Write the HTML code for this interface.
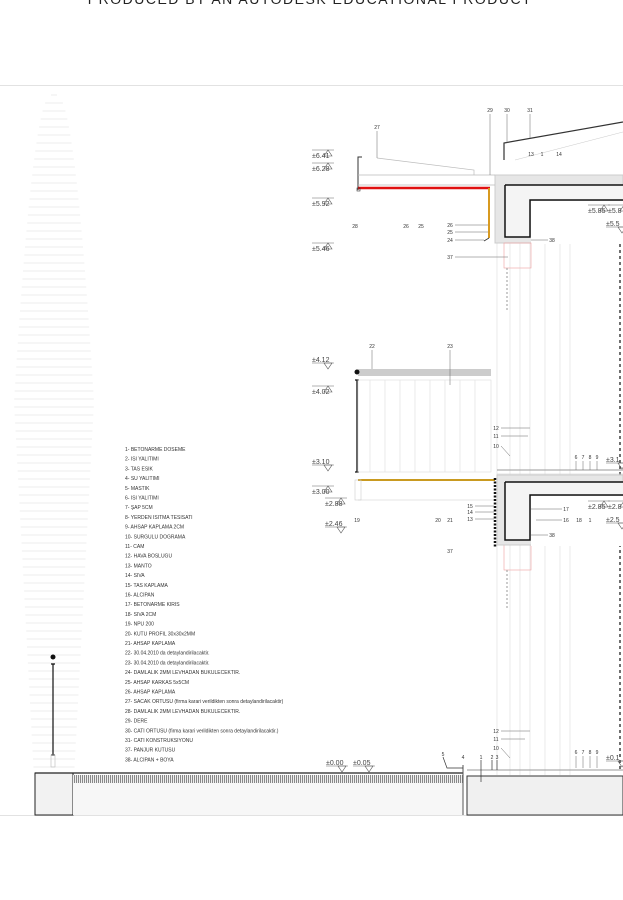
<!DOCTYPE html>
<html><head><meta charset="utf-8"><style>
html,body{margin:0;padding:0;background:#fff;}
svg{display:block;font-family:"Liberation Sans",sans-serif;}
</style></head><body>
<svg width="623" height="900" viewBox="0 0 623 900" xmlns="http://www.w3.org/2000/svg">
<defs>
<pattern id="vh" width="2" height="8" patternUnits="userSpaceOnUse"><rect width="2" height="8" fill="#eee"/><rect width="1" height="8" fill="#888"/></pattern>
</defs>
<rect width="623" height="900" fill="#fff"/>
<text x="310" y="4" font-size="14" text-anchor="middle" fill="#222" letter-spacing="1.5">PRODUCED BY AN AUTODESK EDUCATIONAL PRODUCT</text>
<line x1="0" y1="85.5" x2="623" y2="85.5" stroke="#e2e2e2"/>
<line x1="0" y1="815.5" x2="623" y2="815.5" stroke="#e2e2e2"/>
<g id="taper" stroke="#e8e8e8" stroke-width="0.8"></g>
<g font-size="5" fill="#333" id="legend"></g>
<g stroke="#ddd" stroke-width="0.6">
<line x1="497" y1="175" x2="497" y2="775"/><line x1="510" y1="240" x2="510" y2="775"/>
<line x1="520" y1="175" x2="520" y2="775"/><line x1="530" y1="240" x2="530" y2="775"/>
<line x1="545" y1="175" x2="545" y2="775"/><line x1="560" y1="175" x2="560" y2="775"/>
<line x1="570" y1="200" x2="570" y2="775"/>
</g>
<line x1="620" y1="220" x2="620" y2="770" stroke="#222" stroke-width="1.3" stroke-dasharray="3,3"/>
<g fill="none">
<rect x="495" y="175" width="128" height="68" fill="#e6e6e6" stroke="#ccc"/>
<rect x="531" y="201" width="92" height="43" fill="#fff" stroke="none"/>
<path d="M505 185 H623 V200 H530 V237 H505 Z" fill="#f4f4f4" stroke="none"/>
<path d="M505 185 H623 M505 185 V237 H530 V200 H623" stroke="#111" stroke-width="1.5"/>
<path d="M504 160 V143 L623 122" stroke="#333" stroke-width="1.2"/>
<path d="M515 160 L623 132" stroke="#ccc" stroke-width="0.6"/>
<path d="M362 157 H358 V190" stroke="#333" stroke-width="1"/>
<path d="M377 158 L474 170 V175 M358 175 H495 M358 185 H495" stroke="#bbb" stroke-width="0.7"/>
<line x1="358" y1="188" x2="490" y2="188" stroke="#e01010" stroke-width="2.5"/>
<line x1="489" y1="188" x2="489" y2="238" stroke="#d89a20" stroke-width="2"/>
<path d="M489 238 L484 241" stroke="#333" stroke-width="0.8"/>
<rect x="357" y="188" width="3" height="3" stroke="#333" stroke-width="0.6"/>
<rect x="504" y="243" width="27" height="25" stroke="#f0a0a0" stroke-width="0.6"/>
<rect x="504" y="545" width="27" height="25" stroke="#f0a0a0" stroke-width="0.6"/>
<line x1="507" y1="268" x2="507" y2="310" stroke="#999" stroke-dasharray="2,2"/>
<line x1="507" y1="570" x2="507" y2="610" stroke="#999" stroke-dasharray="2,2"/>
</g>
<rect x="358" y="369" width="133" height="7" fill="#ccc"/>
<circle cx="357" cy="372" r="2.5" fill="#111"/>
<path d="M357 380 V472 M355 380 H359 M355 472 H359" stroke="#111" stroke-width="1.3"/>
<rect x="358" y="380" width="133" height="92" fill="none" stroke="#ddd" stroke-width="0.6"/>
<g stroke="#ddd" stroke-width="0.6" id="panel"></g>
<line x1="358" y1="480" x2="495" y2="480" stroke="#c99a20" stroke-width="2"/>
<line x1="358" y1="500" x2="495" y2="500" stroke="#ccc" stroke-width="0.6"/>
<rect x="355" y="480" width="6" height="20" fill="none" stroke="#ccc" stroke-width="0.6"/>
<line x1="495" y1="478" x2="495" y2="548" stroke="#111" stroke-width="2.5" stroke-dasharray="2,1.5"/>
<rect x="497" y="475" width="126" height="70" fill="#e6e6e6" stroke="#ccc"/>
<rect x="531" y="496" width="92" height="50" fill="#fff"/>
<path d="M505 482 H623 V495 H530 V540 H505 Z" fill="#f4f4f4"/>
<path d="M505 482 H623 M505 482 V540 H530 V495 H623" fill="none" stroke="#111" stroke-width="1.5"/>
<line x1="497" y1="470" x2="623" y2="470" stroke="#999" stroke-width="1"/>
<line x1="497" y1="474" x2="623" y2="474" stroke="#ccc" stroke-width="0.6"/>
<rect x="35" y="773" width="38" height="42" fill="#f2f2f2" stroke="#222"/>
<rect x="73" y="775" width="390" height="8" fill="url(#vh)"/>
<rect x="73" y="783" width="390" height="32" fill="#f7f7f7"/>
<line x1="35" y1="773" x2="463" y2="773" stroke="#222" stroke-width="1.2"/>
<line x1="463" y1="765" x2="463" y2="815" stroke="#555"/>
<rect x="467" y="776" width="156" height="39" fill="#f0f0f0" stroke="#333"/>
<line x1="467" y1="770" x2="623" y2="770" stroke="#999"/>
<circle cx="53" cy="657" r="2.5" fill="#111"/>
<path d="M53 664 V755 M51 664 H55 M51 755 H55" stroke="#111" stroke-width="1.2"/>
<rect x="51" y="755" width="4" height="12" fill="none" stroke="#bbb" stroke-width="0.6"/>
<path d="M443 757 L447 768 H463 M481 760 V782 M492 760 V770 M497 760 V770" stroke="#333" stroke-width="0.7" fill="none"/>
<g id="levels" font-size="7" fill="#444"></g>
<g font-size="5" fill="#333" text-anchor="middle">
<text x="490" y="112">29</text><text x="507" y="112">30</text><text x="530" y="112">31</text>
<text x="531" y="156">13</text><text x="542" y="156">1</text><text x="559" y="156">14</text>
<text x="377" y="129">27</text>
<text x="355" y="228">28</text><text x="406" y="228">26</text><text x="421" y="228">25</text>
<text x="450" y="227">26</text><text x="450" y="234">25</text><text x="450" y="242">24</text>
<text x="450" y="259">37</text><text x="552" y="242">38</text>
<text x="372" y="348">22</text><text x="450" y="348">23</text>
<text x="357" y="522">19</text><text x="438" y="522">20</text><text x="450" y="522">21</text>
<text x="470" y="508">15</text><text x="470" y="514">14</text><text x="470" y="521">13</text>
<text x="566" y="511">17</text><text x="566" y="522">16</text><text x="579" y="522">18</text><text x="590" y="522">1</text>
<text x="552" y="537">38</text><text x="450" y="553">37</text>
<text x="496" y="430">12</text><text x="496" y="438">11</text><text x="496" y="448">10</text>
<text x="496" y="733">12</text><text x="496" y="741">11</text><text x="496" y="750">10</text>
<text x="576" y="459">6</text><text x="583" y="459">7</text><text x="590" y="459">8</text><text x="597" y="459">9</text>
<text x="576" y="754">6</text><text x="583" y="754">7</text><text x="590" y="754">8</text><text x="597" y="754">9</text>
<text x="443" y="756">5</text><text x="463" y="759">4</text><text x="481" y="759">1</text><text x="492" y="759">2</text><text x="497" y="759">3</text>
</g>
<g stroke="#666" stroke-width="0.5">
<line x1="377" y1="131" x2="377" y2="158"/><line x1="490" y1="114" x2="490" y2="175"/><line x1="507" y1="114" x2="507" y2="143"/><line x1="530" y1="114" x2="530" y2="138"/>
<line x1="455" y1="225" x2="488" y2="225"/><line x1="455" y1="232" x2="488" y2="232"/><line x1="455" y1="240" x2="484" y2="240"/>
<line x1="455" y1="257" x2="508" y2="257"/><line x1="531" y1="240" x2="548" y2="240"/><line x1="531" y1="535" x2="548" y2="535"/>
<line x1="501" y1="428" x2="530" y2="428"/><line x1="501" y1="436" x2="528" y2="436"/><line x1="501" y1="446" x2="510" y2="456"/>
<line x1="501" y1="731" x2="530" y2="731"/><line x1="501" y1="739" x2="525" y2="739"/><line x1="501" y1="748" x2="510" y2="758"/>
<line x1="475" y1="506" x2="494" y2="506"/><line x1="475" y1="512" x2="494" y2="512"/><line x1="475" y1="519" x2="494" y2="519"/>
<line x1="531" y1="509" x2="562" y2="509"/><line x1="536" y1="520" x2="562" y2="520"/>
<line x1="372" y1="350" x2="372" y2="369"/><line x1="450" y1="350" x2="450" y2="385"/>
<line x1="576" y1="461" x2="576" y2="470"/><line x1="583" y1="461" x2="583" y2="470"/><line x1="590" y1="461" x2="590" y2="470"/><line x1="597" y1="461" x2="597" y2="470"/>
<line x1="576" y1="756" x2="576" y2="768"/><line x1="583" y1="756" x2="583" y2="768"/><line x1="590" y1="756" x2="590" y2="768"/><line x1="597" y1="756" x2="597" y2="768"/>
</g>
<script>
var ns="http://www.w3.org/2000/svg";
function el(p,t,a,tx){var e=document.createElementNS(ns,t);for(var k in a)e.setAttribute(k,a[k]);if(tx)e.textContent=tx;p.appendChild(e);return e;}
var tg=document.getElementById("taper");
for(var y=95;y<=778;y+=8){var t=(y-95)/(778-95);var w=t<0.45?6+74*Math.sqrt(t/0.45):80-40*((t-0.45)/0.55);el(tg,"line",{x1:54-w/2,x2:54+w/2,y1:y,y2:y});}
var pg=document.getElementById("panel");
for(var x=370;x<490;x+=15)el(pg,"line",{x1:x,x2:x,y1:380,y2:472});
var items=["1- BETONARME DOSEME","2- ISI YALITIMI","3- TAS ESIK","4- SU YALITIMI","5- MASTIK","6- ISI YALITIMI","7- ŞAP 5CM","8- YERDEN ISITMA TESISATI","9- AHSAP KAPLAMA 2CM","10- SURGULU DOGRAMA","11- CAM","12- HAVA BOSLUGU","13- MANTO","14- SIVA","15- TAS KAPLAMA","16- ALCIPAN","17- BETONARME KIRIS","18- SIVA 2CM","19- NPU 200","20- KUTU PROFIL 30x30x2MM","21- AHSAP KAPLAMA","22- 30.04.2010 da detaylandirilacaktir.","23- 30.04.2010 da detaylandirilacaktir.","24- DAMLALIK 2MM LEVHADAN BUKULECEKTIR.","25- AHSAP KARKAS 5x5CM","26- AHSAP KAPLAMA","27- SACAK ORTUSU (firma karari verildikten sonra detaylandirilacaktir)","28- DAMLALIK 2MM LEVHADAN BUKULECEKTIR.","29- DERE","30- CATI ORTUSU (firma karari verildikten sonra detaylandirilacaktir.)","31- CATI KONSTRUKSIYONU","37- PANJUR KUTUSU","38- ALCIPAN + BOYA"];
var lg=document.getElementById("legend");
items.forEach(function(s,i){el(lg,"text",{x:125,y:451+i*9.7},s);});
var lv=document.getElementById("levels");
function lev(x,y,s,down){el(lv,"text",{x:x,y:y},s);var cx=x+16;
el(lv,"line",{x1:x,x2:x+22,y1:down?y+1:y-8,y2:down?y+1:y-8,stroke:"#666","stroke-width":0.5});
if(down)el(lv,"path",{d:"M"+(cx-4)+" "+(y+1)+" L"+(cx+4)+" "+(y+1)+" L"+cx+" "+(y+7)+"Z",fill:"none",stroke:"#555","stroke-width":0.6});
else el(lv,"path",{d:"M"+(cx-4)+" "+(y-2)+" L"+(cx+4)+" "+(y-2)+" L"+cx+" "+(y-8)+"Z",fill:"none",stroke:"#555","stroke-width":0.6});}
lev(312,158,"±6.41");lev(312,171,"±6.28");lev(312,206,"±5.92");lev(312,251,"±5.46");
lev(312,362,"±4.12",1);lev(312,394,"±4.02");lev(312,464,"±3.10",1);lev(312,494,"±3.00");lev(325,506,"±2.88");lev(325,526,"±2.46",1);
lev(326,765,"±0.00",1);lev(353,765,"±0.05",1);lev(588,213,"±5.85");lev(608,213,"±5.8");lev(606,226,"±5.5",1);
lev(606,462,"±3.1",1);lev(588,509,"±2.85");lev(608,509,"±2.8");lev(606,522,"±2.5",1);lev(606,760,"±0.1",1);
</script>
</svg>
</body></html>
